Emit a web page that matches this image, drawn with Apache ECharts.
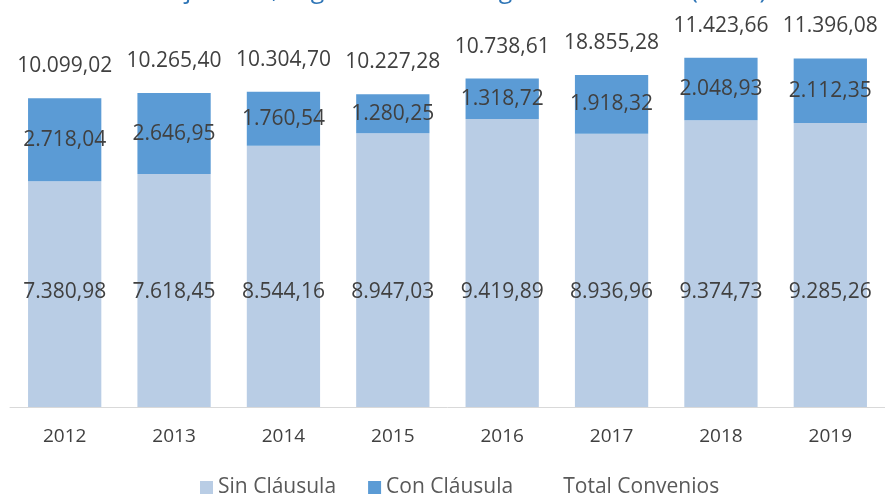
<!DOCTYPE html>
<html>
<head>
<meta charset="utf-8">
<script src="https://cdn.jsdelivr.net/npm/echarts@6/dist/echarts.min.js"></script>
<style>
  html, body { margin: 0; padding: 0; background: #fff; }
  #chart { width: 885px; height: 501px; }
</style>
</head>
<body>
<div id="chart"></div>
<script>
const years = ['2012', '2013', '2014', '2015', '2016', '2017', '2018', '2019']
const sinClausula = [7380.98, 7618.45, 8544.16, 8947.03, 9419.89, 8936.96, 9374.73, 9285.26]
const conClausula = [2718.04, 2646.95, 1760.54, 1280.25, 1318.72, 1918.32, 2048.93, 2112.35]
// totales tal como aparecen en el gráfico (2017 viene así en el original)
const totalConvenios = [10099.02, 10265.40, 10304.70, 10227.28, 10738.61, 18855.28, 11423.66, 11396.08]

const fmt = v => {
    const parts = v.toFixed(2).split('.')
    parts[0] = parts[0].replace(/\B(?=(\d{3})+(?!\d))/g, '.')
    return parts.join(',')
}

const FONT = '"Open Sans", sans-serif'
const TXT = '#404040'

// la línea de totales se coloca sobre la suma apilada
const stackTop = sinClausula.map((v, i) => v + conClausula[i])

const chart = echarts.init(document.getElementById('chart'))
chart.setOption({
    animation: false,
    textStyle: { fontFamily: FONT },
    title: {
        text: 'Trabajadores, según cláusula de garantía salarial (miles)',
        left: 'center',
        top: -27,
        textStyle: { color: '#2E75B6', fontSize: 25, fontWeight: 'normal', fontFamily: FONT },
    },
    legend: {
        left: 195,
        bottom: -2,
        itemWidth: 13,
        itemHeight: 13,
        itemGap: 32,
        icon: 'rect',
        textStyle: { color: '#595959', fontSize: 21, fontFamily: FONT },
        data: ['Sin Cláusula', 'Con Cláusula', 'Total Convenios'],
    },
    grid: { left: 10, right: 0, top: 40, bottom: 94 },
    xAxis: {
        type: 'category',
        data: years,
        axisTick: { show: false },
        axisLine: { lineStyle: { color: '#D9D9D9', width: 1 } },
        axisLabel: { color: TXT, fontSize: 19, margin: 20, fontFamily: FONT },
    },
    yAxis: {
        type: 'value',
        min: 0,
        max: 12000,
        show: false,
        splitLine: { show: false },
    },
    series: [
        {
            name: 'Sin Cláusula',
            type: 'bar',
            stack: 'one',
            barWidth: '67%',
            itemStyle: { color: '#B9CDE5' },
            label: {
                show: true,
                position: 'insideBottom',
                distance: 104,
                color: TXT,
                fontSize: 21,
                fontFamily: FONT,
                formatter: p => fmt(p.value),
            },
            data: sinClausula,
        },
        {
            name: 'Con Cláusula',
            type: 'bar',
            stack: 'one',
            itemStyle: { color: '#5B9BD5' },
            label: {
                show: true,
                position: 'inside',
                color: TXT,
                fontSize: 21,
                fontFamily: FONT,
                formatter: p => fmt(p.value),
            },
            data: conClausula,
        },
        {
            name: 'Total Convenios',
            type: 'line',
            symbol: 'circle',
            symbolSize: 1,
            showSymbol: true,
            itemStyle: { color: 'rgba(0,0,0,0)' },
            lineStyle: { opacity: 0 },
            label: {
                show: true,
                position: 'top',
                distance: 21,
                color: TXT,
                fontSize: 21,
                fontFamily: FONT,
                formatter: p => fmt(totalConvenios[p.dataIndex]),
            },
            data: stackTop,
        },
    ],
})
</script>
</body>
</html>
